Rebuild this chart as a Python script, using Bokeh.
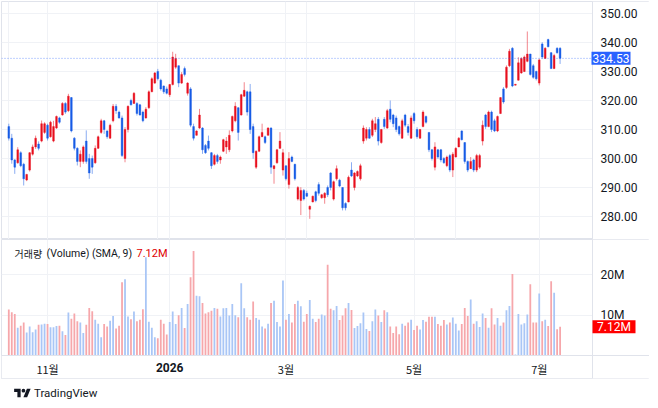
from bokeh.plotting import figure
from bokeh.models import (ColumnDataSource, FixedTicker, Span, Label, Range1d, Div,
                          Grid, PrintfTickFormatter, BoxAnnotation)
from bokeh.layouts import column
from bokeh.embed import file_html
from bokeh.resources import INLINE

# ---------------- data ----------------
opens = [311, 307, 299.5, 298.5, 302, 298, 292.6, 296, 301.5, 304,
         305, 306, 309, 311.5, 307.5, 306, 310.5, 314, 315, 319,
         316.5, 321, 307, 303.5, 299, 299, 306, 300, 300, 298.5,
         303.5, 309, 313, 309.5, 307, 313, 318, 316, 314, 300,
         310, 320, 319, 319, 318.5, 316, 314, 317.5, 323, 326,
         330, 327, 325, 324, 322, 325.5, 331.5, 332, 326, 331,
         322.5, 324, 311, 308, 310.5, 310.5, 304.5, 306, 302, 298,
         301, 299.5, 302.5, 304, 303, 309.5, 313, 317.5, 315, 321.5,
         323, 323, 311, 297, 302.5, 307.5, 307.5, 308, 310.5, 296.5,
         298.5, 303.5, 296, 297.5, 291, 300.5, 298, 286, 285.5, 289,
         288, 282.5, 285, 288.5, 291, 286.5, 286.5, 290, 295, 286,
         293, 292.5, 290, 284.5, 285, 296, 290, 294, 293, 306,
         307, 310, 308, 310, 313.5, 305.5, 313.5, 310.5, 317, 315,
         314, 311, 307, 315, 311, 307, 315.5, 310, 307, 311,
         314.5, 309, 303, 297, 303, 303, 300, 297.5, 301, 296,
         300.5, 304, 309.5, 305.5, 299, 296.5, 299.5, 296, 297, 306,
         315, 311, 316, 313, 309.5, 315.5, 324, 324.5, 332, 338,
         325.3, 327, 329.5, 330, 333.5, 336, 332, 330, 326, 339.5,
         334.5, 341, 336.5, 331, 338, 338]
highs = [312, 308.5, 299.8, 303.9, 302.5, 298.5, 294.7, 302.2, 304.8, 307.9,
         305.9, 313.1, 312.5, 312, 313, 313, 314.8, 314.4, 319.4, 319.4,
         322.3, 321.2, 307.4, 303.9, 302.8, 304.5, 309.7, 301.6, 301, 304.5,
         307.9, 313.7, 313.3, 309.7, 312, 318.8, 318.8, 316.5, 314.8, 310.8,
         318.3, 320.6, 322.9, 319.4, 318.8, 316.5, 317.7, 323.5, 328, 329.8,
         330.9, 327.5, 325.2, 324.8, 325.7, 336.8, 336.1, 332.1, 329.8, 331.7,
         326.3, 324.6, 312, 309.7, 317.1, 310.8, 305, 307.9, 302.2, 301.6,
         301.6, 301, 306.8, 307.4, 309.7, 314.8, 319.4, 317.7, 322.3, 326.3,
         323.4, 325.7, 312, 302.8, 307.9, 312, 307.9, 310.8, 310.8, 297.6,
         303.3, 309.1, 303.3, 297.6, 302.2, 301, 298.2, 290.5, 290.1, 289.5,
         288.9, 283.8, 287.2, 288.9, 291.8, 287.8, 288.4, 290.7, 295.3, 292.4,
         297.6, 293, 290.1, 284.9, 294.1, 298.7, 295.3, 295.9, 298.2, 311.4,
         310.8, 310.8, 313.7, 314.3, 314.3, 310.2, 314.3, 317.1, 320, 315.4,
         314.8, 311.4, 313.7, 315.4, 311.9, 314.8, 316, 310.8, 310.2, 316.6,
         314.8, 309.1, 303.3, 305.6, 303.3, 303.3, 300.5, 301, 301.6, 302.2,
         303.9, 307.4, 309.7, 305.6, 299.3, 300.5, 299.9, 301.6, 301.6, 313.1,
         315.4, 316.5, 316.5, 313.7, 314.8, 321.1, 324.6, 332.1, 337.8, 338.4,
         325.7, 334.9, 334.9, 335.5, 343.8, 336.1, 332.6, 330.3, 334.4, 340.1,
         338.4, 341.3, 336.7, 336.1, 338.4, 338.4]
lows = [306.2, 298.2, 294.7, 298.2, 297, 290.7, 292.2, 295.5, 301, 303.3,
        302.8, 305.6, 308.5, 306.2, 307.2, 305.6, 310.2, 312, 314.8, 315.4,
        316, 309, 302.8, 297.6, 297, 298.2, 298.2, 293, 294.7, 298.2,
        303.3, 308.5, 308.5, 306.8, 306.8, 312.5, 315.4, 313.7, 300.5, 298.7,
        309, 318.3, 318.9, 314.8, 314.8, 312.5, 313.7, 317.1, 322.9, 325.7,
        326.9, 323.4, 322.3, 322.1, 321.2, 325.2, 330.9, 324.6, 325.7, 328.3,
        321.7, 310.8, 306.2, 307.9, 310.2, 301.6, 301.6, 302.8, 296.4, 297.6,
        298.2, 298.2, 302.2, 301.6, 302.2, 309, 312.5, 306.2, 314.8, 321.2,
        314.8, 308.5, 299.9, 296.4, 302.2, 307.4, 305, 307.9, 294.7, 291.3,
        298.2, 303.3, 294.1, 292.4, 289.6, 298.7, 292.4, 285.5, 280.5, 285.5,
        286.7, 279.2, 284.9, 284.9, 287.2, 286.1, 284.4, 286.7, 289, 285.5,
        292.4, 290.1, 282.1, 282.1, 284.9, 293.6, 289, 293.6, 292.4, 305.1,
        306.2, 306.8, 307.4, 309.1, 304.5, 305.1, 310.2, 310.2, 312.5, 310.8,
        309.1, 307.9, 306.8, 310.8, 307.9, 306.8, 312, 306.8, 306.8, 310.8,
        312, 302.2, 299.3, 295.9, 299.9, 298.7, 298.2, 297, 295.3, 293.6,
        300.4, 303.9, 306.2, 298.2, 295.3, 296.4, 295.3, 295.3, 296.4, 304.5,
        310.2, 310.8, 309.1, 309.1, 309.1, 315.4, 318.9, 324, 331.5, 324.6,
        325.2, 326.9, 329.2, 329.8, 333.2, 328.6, 327.5, 326.9, 325.2, 334.4,
        334.4, 338.4, 330.9, 330.9, 336.1, 332.6]
closes = [307, 299.5, 297, 303, 297.5, 293, 294.5, 302, 304, 307,
          303.5, 312, 312, 307, 312.5, 311, 314.5, 312.5, 319, 316,
          321.5, 309.5, 303.5, 299, 301.5, 304, 299, 295, 297, 303.5,
          307.5, 313, 310, 307.5, 311.5, 318, 316.5, 314, 301, 310,
          318, 318.5, 322.5, 315.5, 315, 313, 317, 323, 327.5, 329.5,
          327.5, 324, 323, 322.5, 325.5, 335, 334.5, 326, 329, 329,
          326, 311.5, 307, 309.5, 315, 303, 302, 303.5, 297.5, 301,
          299, 300.5, 306.5, 306, 308, 314.5, 318, 309, 322, 323.5,
          316, 310, 302, 302.5, 307.5, 309, 305.5, 310.5, 297, 297.5,
          303, 306, 302, 293, 300, 299, 293, 290, 289, 286,
          287, 283.5, 287, 285.5, 288, 287.5, 288, 287.5, 290, 292,
          296.5, 290.5, 283, 283, 293.5, 294, 295, 295.5, 297.5, 310.5,
          310, 307, 313, 312, 306, 310, 311, 316.5, 313.5, 312,
          310, 308.5, 313, 311.5, 309, 314, 313, 307.5, 310, 316,
          312.5, 303, 300, 304, 300.5, 299.5, 298.5, 300.5, 296, 301.5,
          303.5, 307, 306.5, 299, 296, 299, 296, 301, 301, 311.5,
          311, 316, 310, 309.5, 314.5, 321, 319.5, 331.5, 337, 325,
          325.6, 333, 334.5, 335, 336, 329, 328, 327.5, 334, 335,
          338, 338.5, 331, 335.5, 336.5, 334.53]
volumes = [11.4, 10.75, 10.3, 6.9, 7.4, 8.2, 5.7, 7.2, 5.8, 6.45,
           7.6, 7.7, 7.9, 7.8, 7.0, 7.0, 7.3, 7.4, 6.0, 5.1,
           10.7, 9.1, 10.4, 8.5, 8.2, 5.6, 7.6, 11.8, 11.0, 8.9,
           7.9, 4.5, 7.8, 7.2, 8.6, 9.8, 6.7, 7.4, 18.2, 18.9,
           9.7, 9.0, 10.9, 8.5, 8.85, 11.5, 24.4, 8.4, 6.9, 4.5,
           4.3, 8.85, 7.9, 5.2, 8.3, 10.9, 7.8, 10.0, 11.8, 6.8,
           12.8, 19.4, 25.9, 14.8, 14.7, 13.0, 10.4, 10.75, 11.1, 11.8,
           11.6, 9.7, 11.7, 11.8, 9.9, 12.8, 10.0, 9.5, 17.9, 11.7,
           9.5, 8.85, 13.4, 9.3, 8.9, 7.2, 6.7, 7.9, 13.0, 13.6,
           8.3, 7.2, 18.6, 8.85, 10.3, 8.2, 12.8, 13.6, 12.2, 8.4,
           10.3, 13.8, 9.1, 8.3, 9.1, 10.2, 9.9, 22.5, 11.6, 11.2,
           12.3, 8.8, 9.9, 11.7, 13.0, 11.3, 6.8, 7.3, 8.0, 10.7,
           6.6, 6.1, 8.5, 11.4, 9.9, 8.3, 11.2, 10.75, 7.2, 5.6,
           7.2, 5.3, 7.9, 7.4, 8.2, 8.9, 6.3, 7.4, 6.45, 8.8,
           8.4, 9.6, 9.6, 9.6, 7.8, 7.4, 8.8, 7.7, 8.2, 9.4,
           7.9, 6.2, 7.8, 11.8, 9.8, 13.9, 7.9, 8.5, 7.1, 10.4,
           9.3, 6.9, 11.7, 7.7, 9.3, 7.4, 8.2, 11.2, 12.3, 20.2,
           0.25, 10.3, 7.7, 8.0, 10.2, 17.7, 8.2, 8.2, 15.4, 8.5,
           8.85, 7.3, 18.4, 15.6, 6.5, 7.12]

price_ticks = [280, 290, 300, 310, 320, 330, 340, 350]
vol_ticks = [10, 20]
vol_tick_labels = ["10M", "20M"]
month_idx = [13, 54, 93, 136, 178]
month_labels = ["11월", "", "3월", "5월", "7월"]
year_idx = 54
year_label = "2026"
last_price = closes[-1]
last_volume = volumes[-1]
legend_kr = "거래량"
legend_en = "(Volume) (SMA, 9)"

# ---------------- styling ----------------
UP = "#E8101E"
DN = "#175CE6"
VOL_UP = "#A9C6F6"
VOL_DN = "#F6A7AB"
GRID = "#F0F2F6"
BORDER = "#E0E3EB"
TXT = "#131722"
NUM_FONT = "Roboto"
KR_FONT = "Noto Sans CJK KR"

n = len(closes)
idx = list(range(n))
is_up = [c >= o for o, c in zip(opens, closes)]
src = ColumnDataSource(dict(
    x=idx, h=highs, l=lows,
    top=[max(o, c) for o, c in zip(opens, closes)],
    bot=[min(o, c) for o, c in zip(opens, closes)],
    col=[UP if u else DN for u in is_up],
    vol=volumes,
    vcol=[VOL_UP if u else VOL_DN for u in is_up],
))

# geometry: frame spans page x 1..649, bars 2.98 px apart, first bar at x 8.3
W = 649
PX = 2.98
X0 = -7.3 / PX
xr = Range1d(X0, X0 + 648 / PX)


def gx(px):
    """page x (pixels) -> data x"""
    return X0 + (px - 1) / PX


COL_X = gx(592)
PPX = 2.9      # px per price unit
VPX = 4.03     # px per million shares


def style_axis(a, font=NUM_FONT, size="12px", standoff=6):
    a.major_tick_line_color = None
    a.minor_tick_line_color = None
    a.major_tick_out = 0
    a.major_tick_in = 0
    a.minor_tick_out = 0
    a.axis_line_color = None
    a.major_label_standoff = standoff
    a.major_label_text_font = font
    a.major_label_text_font_size = size
    a.major_label_text_color = TXT


def scale_column(fig):
    fig.add_layout(BoxAnnotation(left=COL_X, fill_color="white", fill_alpha=1,
                                 line_color=None, level="underlay"))
    fig.add_layout(Span(location=COL_X, dimension="height", line_color=BORDER,
                        line_width=1))


# ---------------- price pane (page y 1..239) ----------------
yr = Range1d(350 - 226 / PPX, 350 + 12 / PPX)
p = figure(width=W, height=239, x_range=xr, y_range=yr,
           output_backend="svg", toolbar_location=None,
           x_axis_location=None, y_axis_location="right",
           min_border_left=1, min_border_right=0, min_border_top=1, min_border_bottom=0,
           background_fill_color="white", border_fill_color="white")
p.outline_line_color = BORDER
p.grid.grid_line_color = GRID
p.add_layout(Grid(dimension=0, ticker=FixedTicker(ticks=month_idx), grid_line_color=GRID))
ax = p.yaxis[0]
ax.ticker = FixedTicker(ticks=price_ticks)
ax.formatter = PrintfTickFormatter(format="%.2f")
style_axis(ax, standoff=-49)
p.ygrid.ticker = FixedTicker(ticks=price_ticks)
scale_column(p)

p.segment(x0="x", y0="h", x1="x", y1="l", source=src, line_color="col",
          line_width=1, line_alpha=0.5)
p.vbar(x="x", top="top", bottom="bot", width=0.58, source=src,
       fill_color="col", line_color="col", line_width=0.4)

BADGE_L, BADGE_R = gx(591), gx(630)
p.segment(x0=[X0], y0=[last_price], x1=[BADGE_L], y1=[last_price],
          line_color="#2962FF", line_dash="1 2", line_width=1, line_alpha=0.6)
ph = 6.5 / PPX
p.add_layout(BoxAnnotation(left=BADGE_L, right=BADGE_R, bottom=last_price - ph,
                           top=last_price + ph, fill_color="#2962FF", fill_alpha=1,
                           line_color=None, level="overlay"))
p.add_layout(Label(x=(BADGE_L + BADGE_R) / 2, y=last_price, text="%.2f" % last_price,
                   text_baseline="middle", text_align="center", level="overlay",
                   text_font=NUM_FONT, text_font_size="12px", text_color="white"))

# ---------------- volume pane + time scale (page y 239..378) ----------------
v = figure(width=W, height=140, x_range=xr,
           y_range=Range1d(-23 / VPX, 116 / VPX),
           output_backend="svg", toolbar_location=None,
           y_axis_location="right",
           min_border_left=1, min_border_right=0, min_border_top=0, min_border_bottom=1,
           background_fill_color="white", border_fill_color="white")
v.outline_line_color = BORDER
v.grid.grid_line_color = GRID
vy = v.yaxis[0]
vy.ticker = FixedTicker(ticks=vol_ticks)
vy.major_label_overrides = {t: s for t, s in zip(vol_ticks, vol_tick_labels)}
style_axis(vy, standoff=-49)
v.ygrid.ticker = FixedTicker(ticks=vol_ticks)

vx = v.xaxis[0]
vx.ticker = FixedTicker(ticks=month_idx)
vx.major_label_overrides = {t: s for t, s in zip(month_idx, month_labels)}
style_axis(vx, font=KR_FONT, size="11px", standoff=-18)
v.xgrid.ticker = FixedTicker(ticks=month_idx)

# time-scale row: no grid, separated by a line at zero volume
v.add_layout(BoxAnnotation(top=0, fill_color="white", fill_alpha=1,
                           line_color=None, level="underlay"))
scale_column(v)
v.add_layout(Span(location=0, dimension="width", line_color=BORDER, line_width=1))

v.vbar(x="x", top="vol", bottom=0, width=0.6, source=src,
       fill_color="vcol", line_color=None)

v.add_layout(Label(x=year_idx, y=-12 / VPX, text=year_label, text_align="center",
                   text_baseline="middle", text_font=NUM_FONT, text_font_size="12px",
                   text_font_style="bold", text_color=TXT))

LEG_Y = (355 - 253) / VPX
v.add_layout(Label(x=gx(14), y=LEG_Y, text=legend_kr, text_baseline="middle",
                   text_font=KR_FONT, text_font_size="10px", text_color=TXT))
v.add_layout(Label(x=gx(46), y=LEG_Y, text=legend_en, text_baseline="middle",
                   text_font=NUM_FONT, text_font_size="10.5px", text_color=TXT))
v.add_layout(Label(x=gx(136), y=LEG_Y, text="%.2fM" % last_volume,
                   text_baseline="middle",
                   text_font=NUM_FONT, text_font_size="11px", text_color="#E00000"))
vh = 6.5 / VPX
VB_L, VB_R = gx(592), gx(635)
v.add_layout(BoxAnnotation(left=VB_L, right=VB_R, bottom=last_volume - vh,
                           top=last_volume + vh, fill_color="#FF0000", fill_alpha=1,
                           line_color=None, level="overlay"))
v.add_layout(Label(x=(VB_L + VB_R) / 2, y=last_volume, text="%.2fM" % last_volume,
                   text_baseline="middle", text_align="center", level="overlay",
                   text_font=NUM_FONT, text_font_size="12px", text_color="white"))

logo = Div(width=W, height=28, text=(
    '<div style="display:flex;align-items:center;height:14px;margin-left:9px;margin-top:2px;'
    'font-family:Roboto,sans-serif;font-size:11.5px;color:#131722;">'
    '<svg width="17" height="13" viewBox="0 0 36 28">'
    '<path d="M14 22H7V11H0V4h14v18zM28 22h-8l7.5-18h8L28 22z" fill="#131722"/>'
    '<circle cx="20" cy="8" r="4" fill="#131722"/></svg>'
    '<span style="margin-left:3px">TradingView</span></div>'))

layout = column(p, v, logo)
open("out.html", "w").write(file_html(layout, INLINE))
